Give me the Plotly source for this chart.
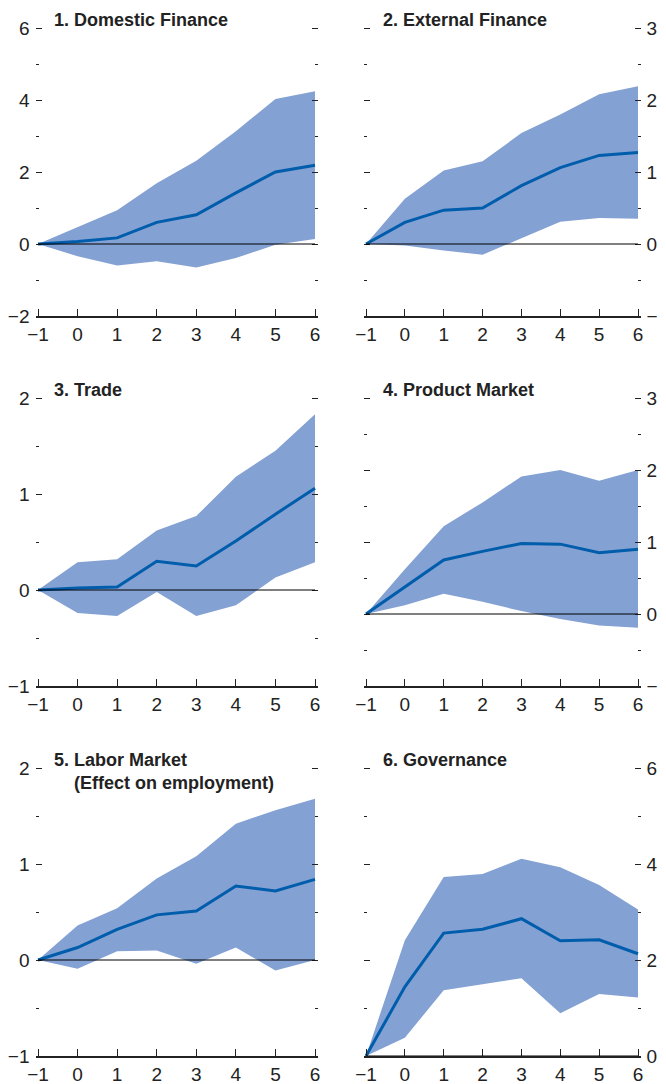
import plotly.graph_objects as go

horizon = [-1, 0, 1, 2, 3, 4, 5, 6]

dom_fin_mid = [0, 0.07, 0.17, 0.60, 0.81, 1.42, 2.00, 2.19]
dom_fin_hi = [0, 0.46, 0.94, 1.69, 2.31, 3.13, 4.03, 4.24]
dom_fin_lo = [0, -0.34, -0.60, -0.48, -0.65, -0.39, -0.02, 0.14]

ext_fin_mid = [0, 0.30, 0.47, 0.50, 0.81, 1.06, 1.23, 1.27]
ext_fin_hi = [0, 0.63, 1.02, 1.15, 1.54, 1.80, 2.08, 2.19]
ext_fin_lo = [0, -0.02, -0.09, -0.15, 0.08, 0.31, 0.36, 0.35]

trade_mid = [0, 0.02, 0.03, 0.30, 0.25, 0.51, 0.79, 1.06]
trade_hi = [0, 0.29, 0.32, 0.62, 0.77, 1.18, 1.45, 1.83]
trade_lo = [0, -0.24, -0.27, -0.02, -0.27, -0.16, 0.13, 0.29]

prod_mid = [0, 0.37, 0.75, 0.87, 0.98, 0.97, 0.85, 0.90]
prod_hi = [0, 0.62, 1.22, 1.55, 1.91, 2.00, 1.85, 2.00]
prod_lo = [0, 0.12, 0.28, 0.17, 0.04, -0.07, -0.16, -0.19]

labor_mid = [0, 0.13, 0.32, 0.47, 0.51, 0.77, 0.72, 0.84]
labor_hi = [0, 0.36, 0.54, 0.85, 1.08, 1.42, 1.56, 1.68]
labor_lo = [0, -0.09, 0.09, 0.10, -0.04, 0.13, -0.11, 0.0]

gov_mid = [0, 1.44, 2.56, 2.64, 2.86, 2.40, 2.42, 2.13]
gov_hi = [0, 2.41, 3.73, 3.79, 4.11, 3.93, 3.56, 3.05]
gov_lo = [0, 0.38, 1.37, 1.50, 1.62, 0.89, 1.29, 1.22]

# the page puts the figure 8px in from the top-left corner of the window
OFF = 8
W, H = 666 - OFF, 1084 - OFF
PAD = 2.5  # px of slack so plotly keeps the end ticks
BAND = "#84A1D3"
LINE = "#005DAC"
INK = "#222"
FONT = "Liberation Sans Narrow, Arial Narrow, Liberation Sans, sans-serif"

# (title lines, mid, hi, lo, y range, major step, side, left px, right px, top px, bottom px)
panels = [
    (["1. Domestic Finance"], dom_fin_mid, dom_fin_hi, dom_fin_lo, [-2, 6], 2, "left", 38, 315, 28, 316),
    (["2. External Finance"], ext_fin_mid, ext_fin_hi, ext_fin_lo, [-1, 3], 1, "right", 366, 638, 28, 316),
    (["3. Trade"], trade_mid, trade_hi, trade_lo, [-1, 2], 1, "left", 38, 315, 398, 686),
    (["4. Product Market"], prod_mid, prod_hi, prod_lo, [-1, 3], 1, "right", 366, 638, 398, 686),
    (["5. Labor Market", "(Effect on employment)"], labor_mid, labor_hi, labor_lo, [-1, 2], 1, "left", 38, 315, 768, 1056),
    (["6. Governance"], gov_mid, gov_hi, gov_lo, [0, 6], 2, "right", 366, 638, 768, 1056),
]


def px_x(v):
    return (v - OFF) / W


def px_y(v):
    return 1 - (v - OFF) / H


fig = go.Figure()
annotations = []
shapes = []

for i, (titles, mid, hi, lo, yr, step, side, x0, x1, y0, y1) in enumerate(panels):
    n = "" if i == 0 else str(i + 1)
    xa, ya = "x" + n, "y" + n

    fig.add_trace(go.Scatter(x=horizon, y=hi, mode="lines", line=dict(width=0, color=BAND),
                             xaxis=xa, yaxis=ya, showlegend=False, hoverinfo="skip"))
    fig.add_trace(go.Scatter(x=horizon, y=lo, mode="lines", line=dict(width=0, color=BAND),
                             fill="tonexty", fillcolor=BAND,
                             xaxis=xa, yaxis=ya, showlegend=False, hoverinfo="skip"))
    fig.add_trace(go.Scatter(x=horizon, y=mid, mode="lines", line=dict(width=3, color=LINE),
                             xaxis=xa, yaxis=ya, showlegend=False))

    # zero reference line drawn over the band
    shapes.append(dict(type="line", xref=xa, yref=ya, x0=horizon[0], x1=horizon[-1], y0=0, y1=0,
                       line=dict(color="#000", width=1), layer="above"))

    ux = PAD * (horizon[-1] - horizon[0]) / (x1 - x0)
    uy = PAD * (yr[1] - yr[0]) / (y1 - y0)

    fig.update_layout({
        "xaxis" + n: dict(
            domain=[px_x(x0 - PAD), px_x(x1 + PAD)], anchor=ya,
            range=[horizon[0] - ux, horizon[-1] + ux], automargin=False,
            tickvals=horizon, ticks="inside", ticklen=7, tickcolor=INK, tickwidth=1.3,
            showline=True, linecolor=INK, linewidth=1.5,
            showgrid=False, zeroline=False,
            tickfont=dict(family=FONT, size=19, color=INK),
        ),
        "yaxis" + n: dict(
            domain=[px_y(y1), px_y(y0 - PAD)], anchor=xa,
            range=[yr[0], yr[1] + uy], side=side, automargin=False,
            dtick=step, tick0=0, ticks="inside", ticklen=6, tickcolor=INK,
            ticklabelstandoff=5,
            mirror="ticks", showline=False, showgrid=False, zeroline=False,
            minor=dict(ticks="inside", ticklen=3, dtick=step / 2, tick0=0, tickcolor=INK, showgrid=False),
            tickfont=dict(family=FONT, size=19, color=INK),
        ),
    })

    tx = 52 if side == "left" else 381
    for j, t in enumerate(titles):
        annotations.append(dict(
            text="<b>%s</b>" % t, xref="paper", yref="paper",
            x=px_x(tx + 20 * j), y=px_y(y0 - 8 + 23 * j),
            xanchor="left", yanchor="middle", showarrow=False,
            font=dict(family=FONT, size=18, color=INK),
        ))

fig.update_layout(
    width=W, height=H,
    margin=dict(l=0, r=0, t=0, b=0),
    paper_bgcolor="white", plot_bgcolor="white",
    annotations=annotations,
    shapes=shapes,
    showlegend=False,
)

fig.write_html("out.html")
